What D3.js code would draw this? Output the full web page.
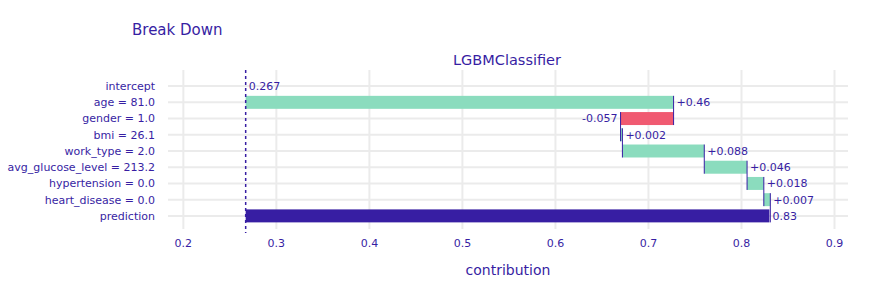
<!DOCTYPE html>
<html>
<head>
<meta charset="utf-8">
<script src="https://cdn.jsdelivr.net/npm/d3@7"></script>
<style>
body { margin: 0; background: #fff; }
text { font-family: "DejaVu Sans", Verdana, sans-serif; fill: #371ea3; }
</style>
</head>
<body>
<svg id="chart" width="875" height="296"></svg>
<script>
// variables, in order from top to bottom
var labels = ["intercept", "age = 81.0", "gender = 1.0", "bmi = 26.1", "work_type = 2.0",
  "avg_glucose_level = 213.2", "hypertension = 0.0", "heart_disease = 0.0", "prediction"];
var contributions = [0.267, 0.46, -0.057, 0.002, 0.088, 0.046, 0.018, 0.007, 0.83];
var valueText = ["0.267", "+0.46", "-0.057", "+0.002", "+0.088", "+0.046", "+0.018", "+0.007", "0.83"];
var ticks = [0.2, 0.3, 0.4, 0.5, 0.6, 0.7, 0.8, 0.9];

var svg = d3.select("#chart");

// plot box
var plotLeft = 168, plotRight = 848, plotTop = 78, plotBottom = 224;

var x = d3.scaleLinear().domain([0.1835, 0.9145]).range([plotLeft, plotRight]);
var y = d3.scaleBand().domain(labels).range([plotTop, plotBottom]).paddingInner(0.2).paddingOuter(0.1);

// build bars: start/end for each row
var rows = [], cum = contributions[0];
labels.forEach(function(l, i) {
  var d = {label: l, text: valueText[i], v: contributions[i]};
  if (i == 0) { d.start = cum; d.end = cum; d.kind = "intercept"; }
  else if (i == labels.length - 1) { d.start = contributions[0]; d.end = contributions[i]; d.kind = "prediction"; }
  else { d.start = cum; d.end = cum + contributions[i]; cum = d.end; d.kind = contributions[i] >= 0 ? "pos" : "neg"; }
  rows.push(d);
});

// gridlines
svg.append("g").selectAll("line.v").data(ticks).enter().append("line")
  .attr("x1", function(d){ return x(d); }).attr("x2", function(d){ return x(d); })
  .attr("y1", plotTop - 8).attr("y2", plotBottom + 5)
  .attr("stroke", "#ebebeb").attr("stroke-width", 2);
svg.append("g").selectAll("line.h").data(labels).enter().append("line")
  .attr("x1", plotLeft).attr("x2", plotRight)
  .attr("y1", function(d){ return y(d) + y.bandwidth()/2; })
  .attr("y2", function(d){ return y(d) + y.bandwidth()/2; })
  .attr("stroke", "#ebebeb").attr("stroke-width", 2);

var colors = {pos: "#8bdcbe", neg: "#f05a71", prediction: "#371ea3", intercept: "#371ea3"};

// bars
svg.append("g").selectAll("rect").data(rows.filter(function(d){ return d.kind != "intercept"; }))
  .enter().append("rect")
  .attr("x", function(d){ return x(Math.min(d.start, d.end)); })
  .attr("width", function(d){ return Math.max(1, Math.abs(x(d.end) - x(d.start))); })
  .attr("y", function(d){ return y(d.label); })
  .attr("height", y.bandwidth())
  .attr("fill", function(d){ return colors[d.kind]; });

// connectors
for (var i = 1; i < rows.length - 1; i++) {
  svg.append("line")
    .attr("x1", x(rows[i].end)).attr("x2", x(rows[i].end))
    .attr("y1", y(rows[i].label)).attr("y2", y(rows[i+1].label) + y.bandwidth())
    .attr("stroke", "#371ea3").attr("stroke-width", 1);
}

// intercept dashed line
svg.append("line")
  .attr("x1", x(contributions[0])).attr("x2", x(contributions[0]))
  .attr("y1", plotTop - 8).attr("y2", plotBottom + 9)
  .attr("stroke", "#371ea3").attr("stroke-width", 1.5).attr("stroke-dasharray", "3,3");

// value labels
svg.append("g").selectAll("text").data(rows).enter().append("text")
  .attr("x", function(d){ return d.kind == "neg" ? x(Math.min(d.start, d.end)) - 3 : x(Math.max(d.start, d.end)) + 3; })
  .attr("y", function(d){ return y(d.label) + y.bandwidth()/2; })
  .attr("dy", "0.35em")
  .attr("text-anchor", function(d){ return d.kind == "neg" ? "end" : "start"; })
  .attr("font-size", 11)
  .text(function(d){ return d.text; });

// y labels
svg.append("g").selectAll("text").data(labels).enter().append("text")
  .attr("x", 155)
  .attr("y", function(d){ return y(d) + y.bandwidth()/2; })
  .attr("dy", "0.35em")
  .attr("text-anchor", "end")
  .attr("font-size", 11)
  .text(function(d){ return d; });

// x axis labels
svg.append("g").selectAll("text").data(ticks).enter().append("text")
  .attr("x", function(d){ return x(d); })
  .attr("y", 247)
  .attr("text-anchor", "middle")
  .attr("font-size", 11)
  .text(function(d){ return d3.format(".1f")(d); });

// titles
svg.append("text").attr("x", 132).attr("y", 35).attr("font-size", 15).text("Break Down");
svg.append("text").attr("x", 507).attr("y", 65).attr("text-anchor", "middle").attr("font-size", 14.5).text("LGBMClassifier");
svg.append("text").attr("x", 508).attr("y", 275).attr("text-anchor", "middle").attr("font-size", 14).text("contribution");
</script>
</body>
</html>
